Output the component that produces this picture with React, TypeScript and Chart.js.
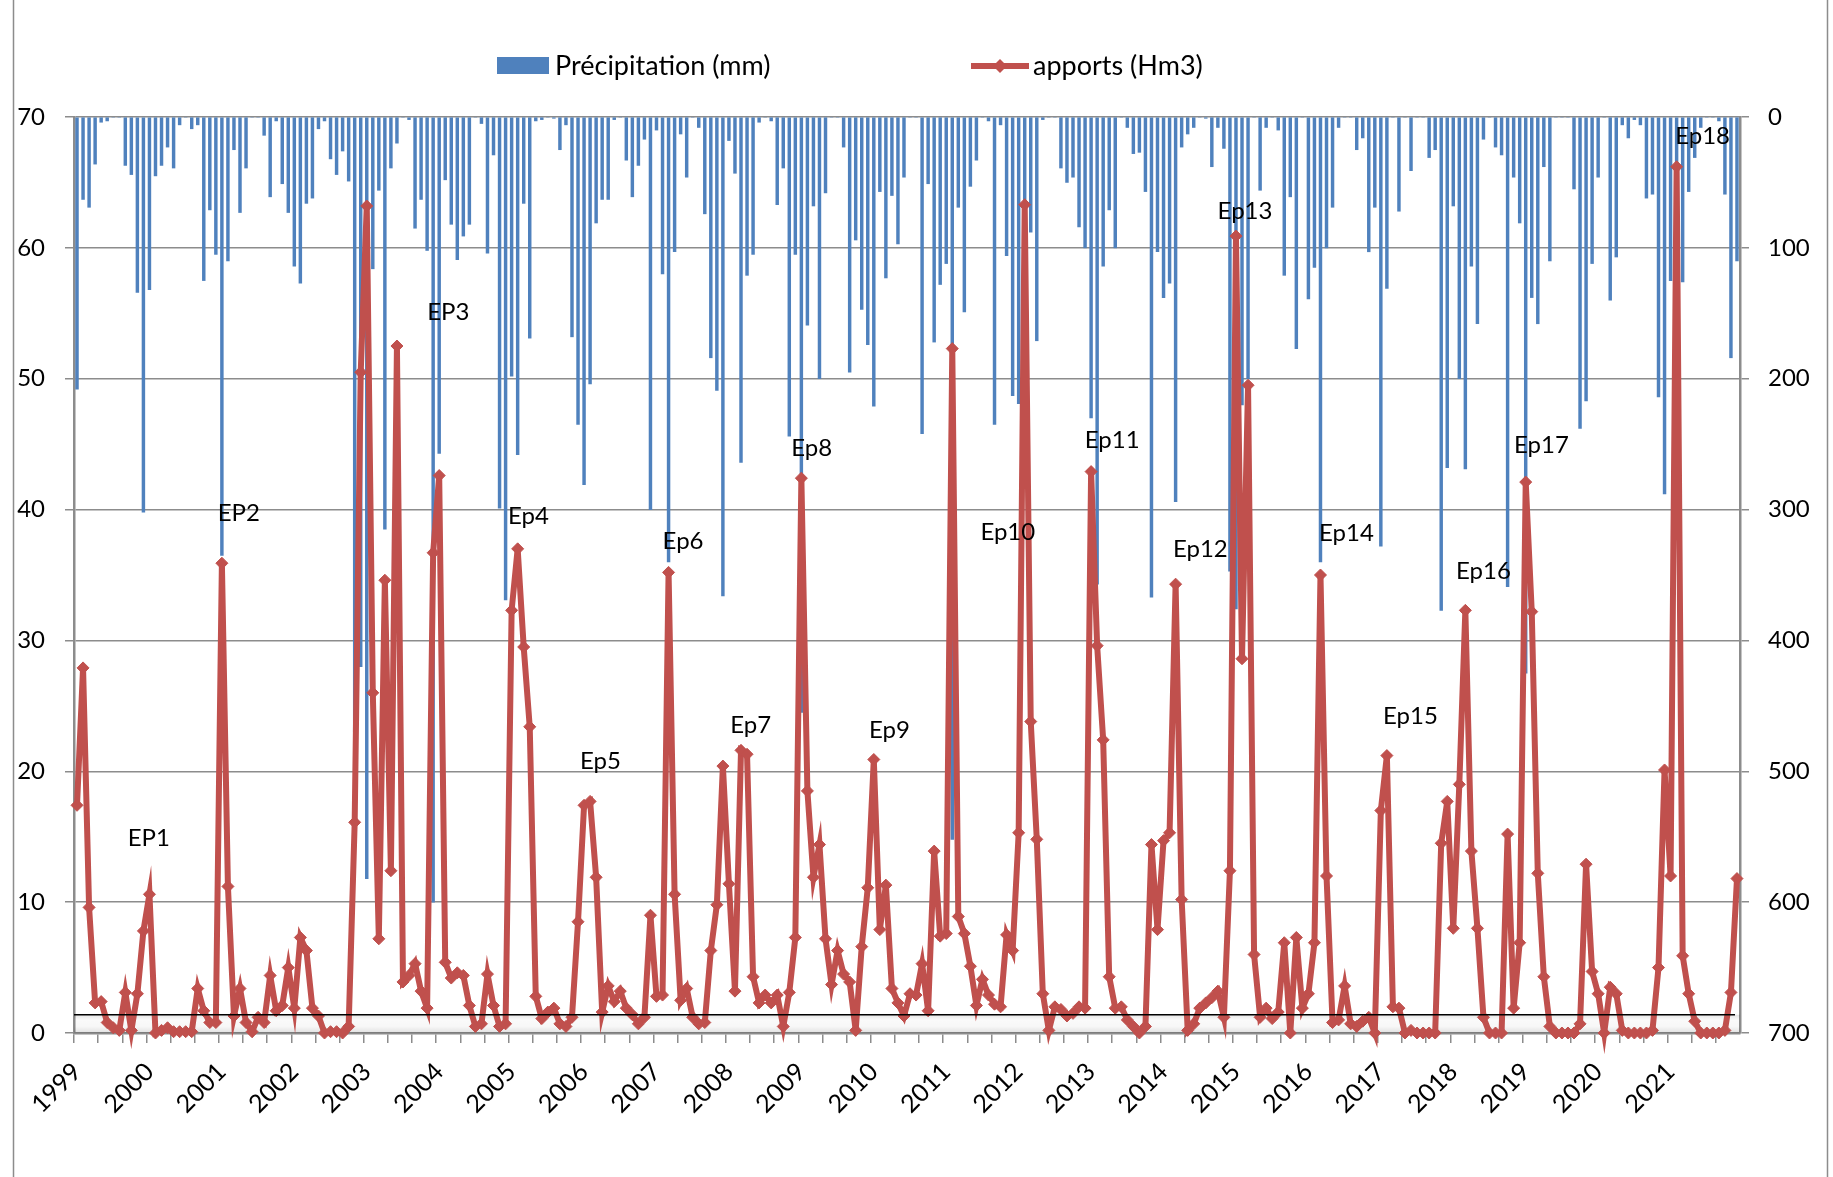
import React, { useEffect, useRef } from "react";
import { Chart, registerables } from "chart.js";

Chart.register(...registerables);

// Hydrological years shown on the time axis (monthly data, Jan 1999 – Dec 2021)
const years = [
  "1999", "2000", "2001", "2002", "2003", "2004", "2005", "2006", "2007", "2008", "2009", "2010",
  "2011", "2012", "2013", "2014", "2015", "2016", "2017", "2018", "2019", "2020", "2021",
];

// Monthly inflows (Hm3), one row per year
const apports = [
  17.4, 27.9, 9.6, 2.3, 2.4, 0.8, 0.4, 0.2, 3.1, 0.2, 3.0, 7.8,
  10.6, 0, 0.2, 0.4, 0.1, 0.1, 0.1, 0.1, 3.4, 1.7, 0.8, 0.8,
  35.9, 11.2, 1.3, 3.4, 0.8, 0.1, 1.2, 0.8, 4.4, 1.7, 2.1, 5.0,
  1.9, 7.3, 6.3, 1.9, 1.3, 0, 0.1, 0.1, 0, 0.5, 16.1, 50.5,
  63.2, 26.0, 7.2, 34.6, 12.4, 52.5, 3.9, 4.4, 5.3, 3.2, 1.9, 36.7,
  42.6, 5.4, 4.2, 4.6, 4.4, 2.1, 0.5, 0.7, 4.5, 2.1, 0.5, 0.7,
  32.3, 37.0, 29.5, 23.4, 2.8, 1.1, 1.6, 1.9, 0.7, 0.5, 1.2, 8.5,
  17.4, 17.7, 11.9, 1.6, 3.6, 2.4, 3.2, 1.9, 1.4, 0.7, 1.2, 9.0,
  2.8, 2.9, 35.2, 10.6, 2.5, 3.4, 1.2, 0.7, 0.8, 6.3, 9.8, 20.4,
  11.4, 3.2, 21.6, 21.3, 4.3, 2.3, 2.9, 2.3, 2.9, 0.5, 3.1, 7.3,
  42.4, 18.5, 11.9, 14.4, 7.2, 3.7, 6.3, 4.5, 3.9, 0.2, 6.6, 11.1,
  20.9, 7.9, 11.3, 3.4, 2.3, 1.3, 3.0, 2.9, 5.3, 1.7, 13.9, 7.4,
  7.6, 52.3, 8.9, 7.6, 5.1, 2.1, 4.1, 2.9, 2.2, 2.0, 7.5, 6.3,
  15.3, 63.3, 23.8, 14.8, 3.0, 0.2, 2.0, 1.8, 1.3, 1.5, 2.0, 1.9,
  42.9, 29.6, 22.4, 4.3, 1.9, 2.0, 1.0, 0.5, 0, 0.5, 14.4, 7.9,
  14.7, 15.3, 34.3, 10.2, 0.2, 0.7, 1.9, 2.3, 2.7, 3.2, 1.2, 12.4,
  60.9, 28.6, 49.5, 6.0, 1.2, 1.9, 1.1, 1.6, 6.9, 0, 7.3, 1.9,
  3.0, 6.9, 35.0, 12.0, 0.8, 1.0, 3.6, 0.7, 0.5, 0.9, 1.2, 0,
  17.0, 21.2, 2.0, 1.9, 0, 0.2, 0, 0, 0, 0, 14.5, 17.7,
  8.0, 19.0, 32.3, 13.9, 8.0, 1.2, 0, 0, 0, 15.2, 1.9, 6.9,
  42.1, 32.2, 12.2, 4.3, 0.5, 0, 0, 0, 0, 0.7, 12.9, 4.7,
  3.0, 0, 3.5, 3.0, 0.2, 0, 0, 0, 0, 0.2, 5.0, 20.1,
  12.0, 66.2, 5.9, 3.0, 0.9, 0, 0, 0, 0, 0.2, 3.1, 11.8,
];

// Monthly rainfall (mm), one row per year
const precipitation = [
  208, 63, 69, 36, 4, 3, 0, 0, 37, 44, 134, 302,
  132, 45, 37, 23, 39, 6, 0, 9, 6, 125, 71, 105,
  335, 110, 25, 73, 39, 0, 0, 14, 61, 3, 51, 73,
  114, 127, 66, 62, 9, 3, 32, 44, 26, 49, 470, 420,
  582, 116, 56, 315, 39, 20, 0, 2, 85, 63, 102, 600,
  257, 48, 82, 109, 91, 82, 0, 5, 104, 29, 299, 369,
  198, 258, 66, 169, 3, 2, 0, 1, 25, 6, 168, 235,
  281, 204, 81, 63, 63, 2, 0, 33, 61, 37, 17, 300,
  10, 120, 340, 103, 13, 46, 0, 8, 74, 184, 209, 366,
  18, 43, 264, 121, 105, 4, 0, 3, 67, 39, 244, 105,
  455, 159, 68, 200, 58, 0, 0, 23, 195, 94, 147, 174,
  221, 57, 123, 60, 97, 46, 0, 0, 242, 51, 172, 128,
  112, 552, 69, 149, 53, 33, 0, 3, 235, 6, 106, 213,
  219, 150, 88, 171, 2, 0, 0, 39, 50, 46, 84, 100,
  230, 357, 114, 71, 100, 0, 8, 28, 27, 57, 367, 103,
  138, 127, 294, 23, 13, 8, 0, 1, 38, 8, 24, 347,
  376, 220, 200, 0, 56, 8, 0, 10, 121, 61, 177, 0,
  139, 115, 340, 100, 69, 8, 0, 0, 25, 16, 103, 69,
  328, 131, 0, 72, 0, 41, 0, 0, 31, 25, 377, 268,
  68, 200, 269, 114, 158, 17, 0, 23, 29, 359, 46, 81,
  425, 138, 158, 38, 110, 0, 0, 0, 55, 238, 217, 112,
  46, 0, 140, 107, 6, 16, 2, 6, 62, 59, 214, 288,
  125, 120, 126, 57, 31, 8, 0, 0, 3, 59, 184, 110,
];

// Flood episodes: name, month index and inflow level where the tag sits
const episodeNames = [
  "EP1", "EP2", "EP3", "Ep4", "Ep5", "Ep6", "Ep7", "Ep8", "Ep9",
  "Ep10", "Ep11", "Ep12", "Ep13", "Ep14", "Ep15", "Ep16", "Ep17", "Ep18",
];
const episodeMonths = [
  11.9, 26.8, 61.5, 74.8, 86.7, 100.4, 111.6, 121.7, 134.6,
  154.2, 171.5, 186.1, 193.5, 210.3, 220.9, 233.0, 242.6, 269.3,
];
const episodeLevels = [
  14.9, 39.7, 55.1, 39.5, 20.8, 37.6, 23.5, 44.7, 23.1,
  38.3, 45.3, 37.0, 62.8, 38.2, 24.2, 35.3, 44.9, 68.5,
];

// Low-flow reference level (Hm3)
const seuil = 1.4;

const monthLabels = years.flatMap((y) =>
  Array.from({ length: 12 }, (_, m) => `${y}-${String(m + 1).padStart(2, "0")}`)
);

const BLUE = "#4F81BD";
const RED = "#C0504D";
const GREY = "#8c8c8c";
const FONT = "Lato";

const W = 1833;
const H = 1177;

// Frame, floor band, threshold line, episode tags and legend
const decorations = {
  id: "decorations",
  beforeDraw(chart: any) {
    const { ctx } = chart;
    ctx.save();
    ctx.fillStyle = "#ffffff";
    ctx.fillRect(0, 0, W, H);
    ctx.strokeStyle = GREY;
    ctx.lineWidth = 1.5;
    ctx.beginPath();
    ctx.moveTo(13.5, 0);
    ctx.lineTo(13.5, H);
    ctx.moveTo(1827.5, 0);
    ctx.lineTo(1827.5, H);
    ctx.stroke();
    ctx.restore();
  },
  beforeDatasetsDraw(chart: any) {
    const { ctx, chartArea } = chart;
    const y = chart.scales.y;
    const y0 = y.getPixelForValue(0);
    const ys = y.getPixelForValue(seuil);
    ctx.save();
    const g = ctx.createLinearGradient(0, ys, 0, y0);
    g.addColorStop(0, "rgba(0,0,0,0.10)");
    g.addColorStop(0.3, "rgba(0,0,0,0.02)");
    g.addColorStop(0.65, "rgba(0,0,0,0.03)");
    g.addColorStop(1, "rgba(0,0,0,0.12)");
    ctx.fillStyle = g;
    ctx.fillRect(chartArea.left, ys, chartArea.right - chartArea.left, y0 - ys);
    ctx.restore();
  },
  afterDatasetsDraw(chart: any) {
    const { ctx, chartArea } = chart;
    const x = chart.scales.x;
    const y = chart.scales.y;
    const ys = y.getPixelForValue(seuil);
    ctx.save();
    ctx.strokeStyle = "#000000";
    ctx.lineWidth = 1.6;
    ctx.beginPath();
    ctx.moveTo(chartArea.left, ys);
    ctx.lineTo(chartArea.right - 5, ys);
    ctx.stroke();

    ctx.fillStyle = "#000000";
    ctx.font = `24px ${FONT}`;
    ctx.textAlign = "center";
    ctx.textBaseline = "middle";
    episodeNames.forEach((name, i) => {
      ctx.fillText(name, x.getPixelForValue(episodeMonths[i]), y.getPixelForValue(episodeLevels[i]));
    });
    ctx.restore();
  },
  afterDraw(chart: any) {
    const { ctx } = chart;
    const cy = 66;
    ctx.save();
    ctx.fillStyle = BLUE;
    ctx.fillRect(497, 57, 52, 17);
    ctx.fillStyle = "#000000";
    ctx.font = `27px ${FONT}`;
    ctx.textAlign = "left";
    ctx.textBaseline = "middle";
    ctx.fillText("Précipitation (mm)", 555, cy);

    ctx.strokeStyle = RED;
    ctx.lineWidth = 6;
    ctx.beginPath();
    ctx.moveTo(971, cy);
    ctx.lineTo(1029, cy);
    ctx.stroke();
    ctx.fillStyle = RED;
    ctx.beginPath();
    ctx.moveTo(1000, cy - 7);
    ctx.lineTo(1007, cy);
    ctx.lineTo(1000, cy + 7);
    ctx.lineTo(993, cy);
    ctx.closePath();
    ctx.fill();
    ctx.fillStyle = "#000000";
    ctx.fillText("apports (Hm3)", 1033, cy);
    ctx.restore();
  },
};

export default function App() {
  const canvasRef = useRef<HTMLCanvasElement | null>(null);

  useEffect(() => {
    let chart: Chart | null = null;
    let cancelled = false;

    const build = () => {
      if (cancelled || !canvasRef.current) return;
      Chart.defaults.font.family = FONT;
      chart = new Chart(canvasRef.current, {
        type: "bar",
        data: {
          labels: monthLabels,
          datasets: [
            {
              type: "line",
              label: "apports (Hm3)",
              data: apports,
              yAxisID: "y",
              borderColor: RED,
              backgroundColor: RED,
              borderWidth: 6,
              pointStyle: "rectRot",
              pointRadius: 6,
              pointBackgroundColor: RED,
              pointBorderColor: RED,
              pointBorderWidth: 1,
              tension: 0,
              clip: false,
              order: 1,
            } as any,
            {
              type: "bar",
              label: "Précipitation (mm)",
              data: precipitation,
              yAxisID: "y1",
              backgroundColor: BLUE,
              barThickness: 2.8,
              order: 2,
            } as any,
          ],
        },
        options: {
          responsive: false,
          animation: false,
          devicePixelRatio: 1,
          layout: { padding: { top: 117, left: 0, right: 0, bottom: 0 } },
          plugins: {
            legend: { display: false },
            tooltip: { enabled: false },
          },
          scales: {
            x: {
              type: "category",
              offset: true,
              grid: {
                offset: true,
                drawOnChartArea: false,
                drawTicks: true,
                tickLength: 10,
                lineWidth: 1.5,
                color: (c: any) => (typeof c.index === "number" && c.index % 4 === 0 ? GREY : "rgba(0,0,0,0)"),
              },
              border: { color: GREY, width: 2.5 },
              ticks: {
                autoSkip: false,
                minRotation: 45,
                maxRotation: 45,
                padding: 14,
                color: "#000000",
                font: { family: FONT, size: 25 },
                callback: (_v: any, i: number) => (i % 12 === 0 ? years[i / 12] : ""),
              },
              afterFit: (s: any) => {
                s.height = 144;
              },
            },
            y: {
              position: "left",
              min: 0,
              max: 70,
              ticks: {
                stepSize: 10,
                padding: 20,
                color: "#000000",
                font: { family: FONT, size: 24 },
              },
              grid: { color: GREY, lineWidth: 1.5, tickLength: 9, drawTicks: true },
              border: { color: GREY, width: 2.5 },
              afterFit: (s: any) => {
                s.width = 74;
              },
            },
            y1: {
              position: "right",
              reverse: true,
              min: 0,
              max: 700,
              ticks: {
                stepSize: 100,
                padding: 19,
                color: "#000000",
                font: { family: FONT, size: 24 },
              },
              grid: { drawOnChartArea: false, color: GREY, lineWidth: 1.5, tickLength: 9, drawTicks: true },
              border: { color: GREY, width: 2.5 },
              afterFit: (s: any) => {
                s.width = 93;
              },
            },
          },
        } as any,
        plugins: [decorations],
      });
    };

    if ((document as any).fonts && (document as any).fonts.load) {
      (document as any).fonts.load(`24px ${FONT}`).then(build, build);
    } else {
      build();
    }

    return () => {
      cancelled = true;
      if (chart) chart.destroy();
    };
  }, []);

  return (
    <div style={{ position: "absolute", left: 0, top: 0, width: W, height: H, background: "#ffffff" }}>
      <canvas ref={canvasRef} width={W} height={H} style={{ display: "block", width: W, height: H }} />
    </div>
  );
}
